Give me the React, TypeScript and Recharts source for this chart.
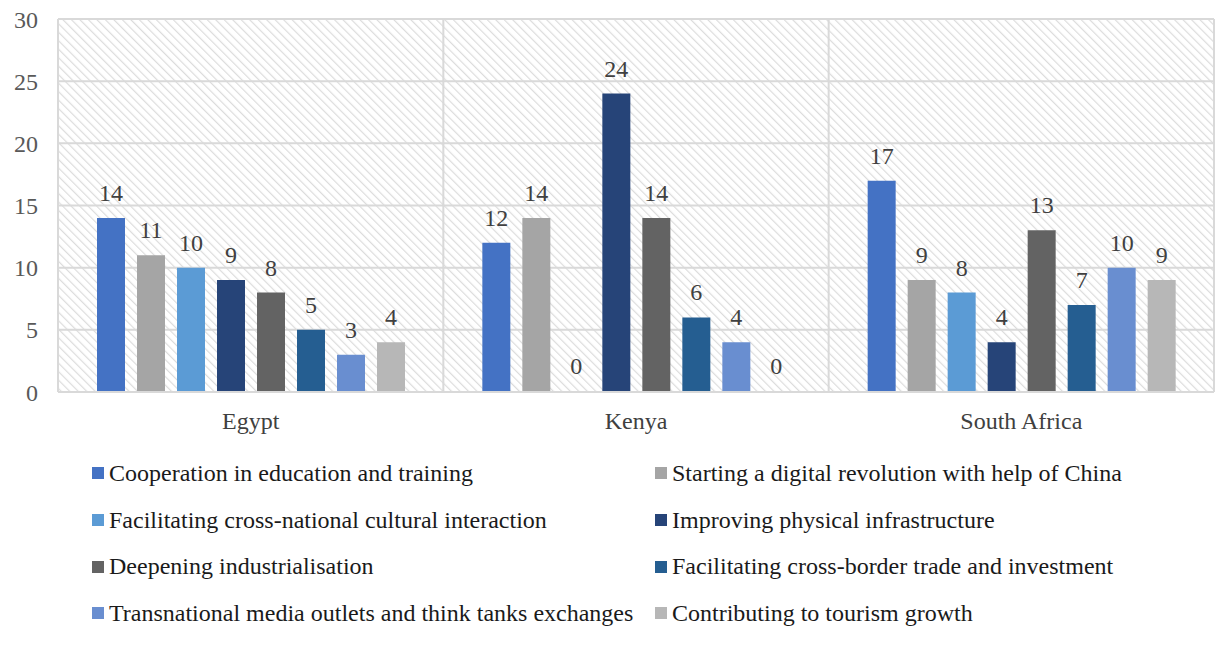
import { BarChart, Bar, XAxis, YAxis, CartesianGrid, LabelList, Rectangle } from "recharts";

const countries = ["Egypt", "Kenya", "South Africa"];

const seriesNames = [
  "Cooperation in education and training",
  "Starting a digital revolution with help of China",
  "Facilitating cross-national cultural interaction",
  "Improving physical infrastructure",
  "Deepening industrialisation",
  "Facilitating cross-border trade and investment",
  "Transnational media outlets and think tanks exchanges",
  "Contributing to tourism growth",
];

const seriesColors = [
  "#4472C4",
  "#A5A5A5",
  "#5B9BD5",
  "#264478",
  "#636363",
  "#255E91",
  "#698ED0",
  "#B7B7B7",
];

// one array per series, values for Egypt, Kenya, South Africa
const education = [14, 12, 17];
const digital = [11, 14, 9];
const cultural = [10, 0, 8];
const infrastructure = [9, 24, 4];
const industrialisation = [8, 14, 13];
const trade = [5, 6, 7];
const media = [3, 4, 10];
const tourism = [4, 0, 9];

const seriesValues = [education, digital, cultural, infrastructure, industrialisation, trade, media, tourism];

const yTicks = [0, 5, 10, 15, 20, 25, 30];

const data = countries.map((name, i) => {
  const row: Record<string, string | number> = { name };
  seriesNames.forEach((s, k) => {
    row[s] = seriesValues[k][i];
  });
  return row;
});

const FONT = '"Times New Roman", "Liberation Serif", serif';

// zero values still get a slot and a "0" label, but no visible bar
const BarShape = (props: any) => {
  if (!props.value) return <g />;
  return <Rectangle {...props} />;
};

export default function App() {
  return (
    <div
      style={{
        position: "absolute",
        left: 0,
        top: 0,
        width: 1215,
        height: 647,
        background: "#fff",
        fontFamily: FONT,
      }}
    >
      <BarChart
        width={1215}
        height={440}
        data={data}
        margin={{ top: 19, right: 1, bottom: 0, left: 0 }}
        barCategoryGap={38}
        barGap={12}
        style={{ fontFamily: FONT }}
      >
        <defs>
          <pattern
            id="hatch"
            width="6"
            height="6"
            patternUnits="userSpaceOnUse"
            patternTransform="rotate(-45)"
          >
            <rect width="6" height="6" fill="#ffffff" />
            <line x1="0" y1="0" x2="0" y2="6" stroke="#dcdcdc" strokeWidth="2.4" />
          </pattern>
        </defs>
        <CartesianGrid
          fill="url(#hatch)"
          fillOpacity={1}
          stroke="#d9d9d9"
          strokeWidth={2}
          verticalCoordinatesGenerator={({ offset }: any) =>
            countries.map((_, i) => offset.left + (i * offset.width) / countries.length).concat([offset.left + offset.width])
          }
        />
        <XAxis
          dataKey="name"
          tickLine={false}
          tickSize={0}
          tickMargin={20}
          height={48}
          axisLine={{ stroke: "#d9d9d9", strokeWidth: 2 }}
          tick={{ fontSize: 24, fill: "#404040", fontFamily: FONT }}
        />
        <YAxis
          domain={[0, 30]}
          ticks={yTicks}
          width={58}
          tickLine={false}
          axisLine={false}
          tickSize={0}
          tickMargin={20}
          tick={{ fontSize: 24, fill: "#595959", fontFamily: FONT }}
        />
        {seriesNames.map((s, k) => (
          <Bar
            key={s}
            dataKey={s}
            fill={seriesColors[k]}
            barSize={28}
            minPointSize={1}
            shape={BarShape}
            isAnimationActive={false}
          >
            <LabelList
              dataKey={s}
              position="top"
              offset={17}
              style={{ fontSize: 24, fill: "#404040", fontFamily: FONT }}
            />
          </Bar>
        ))}
      </BarChart>
      <div
        style={{
          position: "absolute",
          left: 92,
          top: 450,
          display: "grid",
          gridTemplateColumns: "563px 540px",
          rowGap: 0,
        }}
      >
        {seriesNames.map((s, k) => (
          <div
            key={s}
            style={{
              display: "flex",
              alignItems: "center",
              height: 46.7,
              fontSize: 24,
              color: "#1a1a1a",
              whiteSpace: "nowrap",
            }}
          >
            <span
              style={{
                display: "inline-block",
                width: 12,
                height: 12,
                background: seriesColors[k],
                marginRight: 5,
              }}
            />
            {s}
          </div>
        ))}
      </div>
    </div>
  );
}
